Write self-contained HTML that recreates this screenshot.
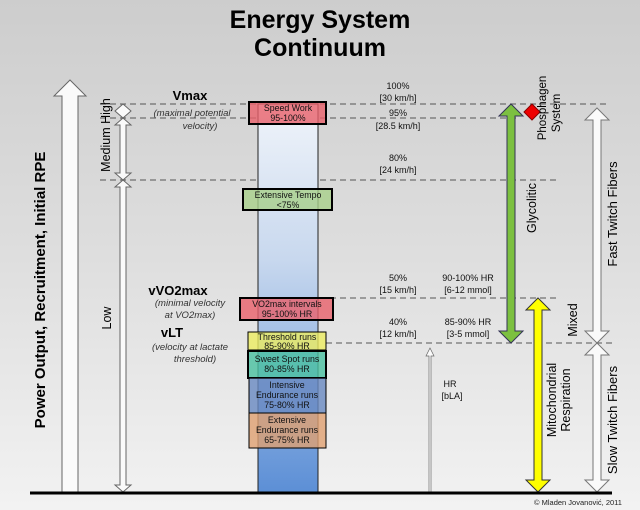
<!DOCTYPE html>
<html><head><meta charset="utf-8"><style>
html,body{margin:0;padding:0;}
svg{display:block;font-family:"Liberation Sans",Arial,sans-serif;}
</style></head><body>
<svg width="640" height="510" viewBox="0 0 640 510" xmlns="http://www.w3.org/2000/svg">
<defs>
<linearGradient id="bg" x1="0" y1="0" x2="0" y2="1">
<stop offset="0" stop-color="#cdcdcd"/><stop offset="0.5" stop-color="#dedede"/><stop offset="1" stop-color="#f2f2f2"/></linearGradient>
<linearGradient id="col" x1="0" y1="0" x2="0" y2="1">
<stop offset="0" stop-color="#f0f4fa"/><stop offset="0.4" stop-color="#c8d8ee"/><stop offset="1" stop-color="#5c8fd6"/></linearGradient>
</defs>
<rect width="640" height="510" fill="url(#bg)"/>
<text x="320" y="28" font-size="25" font-weight="bold" text-anchor="middle">Energy System</text>
<text x="320" y="56" font-size="25" font-weight="bold" text-anchor="middle">Continuum</text>

<g stroke="#555" stroke-dasharray="6,4" stroke-width="1">
<line x1="100" y1="104" x2="610" y2="104"/>
<line x1="100" y1="118" x2="520" y2="118"/>
<line x1="100" y1="180" x2="560" y2="180"/>
<line x1="330" y1="298" x2="560" y2="298"/>
<line x1="326" y1="343" x2="615" y2="343"/>
</g>

<rect x="258" y="104" width="60" height="388" fill="url(#col)" stroke="#222" stroke-width="1"/>

<g stroke="#000" stroke-width="2" font-size="8.5" text-anchor="middle" fill-opacity="0.8">
<rect x="249" y="102" width="77" height="22" fill="#e8606a"/>
<rect x="243" y="189" width="89" height="21" fill="#a8d08a"/>
<rect x="240" y="298" width="93" height="22" fill="#e8606a"/>
<rect x="248" y="332" width="78" height="18" fill="#ecec60" stroke-width="1"/>
<rect x="248" y="351" width="78" height="27" fill="#48c0a0"/>
<rect x="249" y="378" width="77" height="35" fill="#6888c0" stroke-width="1"/>
<rect x="249" y="413" width="77" height="35" fill="#e0a070" stroke-width="1"/>
</g>
<g font-size="8.8" text-anchor="middle" fill="#111">
<text x="288" y="111">Speed Work</text><text x="288" y="121">95-100%</text>
<text x="288" y="198">Extensive Tempo</text><text x="288" y="208">&lt;75%</text>
<text x="287" y="307">VO2max intervals</text><text x="287" y="317">95-100% HR</text>
<text x="287" y="340">Threshold runs</text><text x="287" y="349">85-90% HR</text>
<text x="287" y="362">Sweet Spot runs</text><text x="287" y="372">80-85% HR</text>
<text x="287" y="388">Intensive</text><text x="287" y="398">Endurance runs</text><text x="287" y="408">75-80% HR</text>
<text x="287" y="423">Extensive</text><text x="287" y="433">Endurance runs</text><text x="287" y="443">65-75% HR</text>
</g>

<polygon points="70,80 86,96 78,96 78,492 62,492 62,96 54,96" fill="#fafafa" stroke="#666"/>
<text transform="translate(45,290) rotate(-90)" font-size="15" font-weight="bold" text-anchor="middle">Power Output, Recruitment, Initial RPE</text>

<g fill="#fafafa" stroke="#666">
<polygon points="123,104 131,111 123,118 115,111"/>
<polygon points="123,118 131,125 126,125 126,173 131,173 123,180 115,173 120,173 120,125 115,125"/>
<polygon points="123,180 131,187 126,187 126,485 131,485 123,492 115,485 120,485 120,187 115,187"/>
</g>
<text transform="translate(110,135) rotate(-90)" font-size="12.5" text-anchor="middle">Medium High</text>
<text transform="translate(111,318) rotate(-90)" font-size="12.5" text-anchor="middle">Low</text>

<text x="190" y="100" font-size="13" font-weight="bold" text-anchor="middle">Vmax</text>
<g font-size="9.5" font-style="italic" fill="#333" text-anchor="middle">
<text x="192" y="116">(maximal potential</text><text x="200" y="129">velocity)</text>
<text x="190" y="306">(minimal velocity</text><text x="190" y="318">at VO2max)</text>
<text x="190" y="350">(velocity at lactate</text><text x="195" y="362">threshold)</text>
</g>
<text x="178" y="295" font-size="13" font-weight="bold" text-anchor="middle">vVO2max</text>
<text x="172" y="337" font-size="13" font-weight="bold" text-anchor="middle">vLT</text>

<g font-size="9" text-anchor="middle" fill="#111">
<text x="398" y="89">100%</text><text x="398" y="101">[30 km/h]</text>
<text x="398" y="116">95%</text><text x="398" y="129">[28.5 km/h]</text>
<text x="398" y="161">80%</text><text x="398" y="173">[24 km/h]</text>
<text x="398" y="281">50%</text><text x="398" y="293">[15 km/h]</text>
<text x="398" y="325">40%</text><text x="398" y="337">[12 km/h]</text>
<text x="468" y="281">90-100% HR</text><text x="468" y="293">[6-12 mmol]</text>
<text x="468" y="325">85-90% HR</text><text x="468" y="337">[3-5 mmol]</text>
<text x="450" y="387">HR</text><text x="452" y="399">[bLA]</text>
</g>
<polygon points="430,348 434,356 431,356 431,492 429,492 429,356 426,356" fill="#fafafa" stroke="#666" stroke-width="0.7"/>

<polygon points="511,104 523,116 515,116 515,331 523,331 511,343 499,331 507,331 507,116 499,116" fill="#7cc040" stroke="#335" stroke-width="1"/>
<text transform="translate(536,208) rotate(-90)" font-size="12.5" text-anchor="middle">Glycolitic</text>
<polygon points="532,104 540,112 532,120 524,112" fill="#e00" stroke="#800"/>
<text transform="translate(546,108) rotate(-90)" font-size="11.5" text-anchor="middle">Phosphagen</text>
<text transform="translate(560,113) rotate(-90)" font-size="11.5" text-anchor="middle">System</text>

<polygon points="538,298 550,310 542,310 542,480 550,480 538,492 526,480 534,480 534,310 526,310" fill="#ffff00" stroke="#333"/>
<text transform="translate(556,400) rotate(-90)" font-size="12.5" text-anchor="middle">Mitochondrial</text>
<text transform="translate(570,400) rotate(-90)" font-size="12.5" text-anchor="middle">Respiration</text>

<g fill="#fafafa" stroke="#777">
<polygon points="597,108 609,120 601,120 601,331 609,331 597,343 585,331 593,331 593,120 585,120"/>
<polygon points="597,343 609,355 601,355 601,480 609,480 597,492 585,480 593,480 593,355 585,355"/>
</g>
<text transform="translate(617,214) rotate(-90)" font-size="13" text-anchor="middle">Fast Twitch Fibers</text>
<text transform="translate(577,320) rotate(-90)" font-size="12.5" text-anchor="middle">Mixed</text>
<text transform="translate(617,420) rotate(-90)" font-size="13" text-anchor="middle">Slow Twitch Fibers</text>

<line x1="30" y1="493" x2="612" y2="493" stroke="#000" stroke-width="3"/>
<text x="578" y="505" font-size="7.5" text-anchor="middle" fill="#222">© Mladen Jovanović, 2011</text>
</svg>
</body></html>
